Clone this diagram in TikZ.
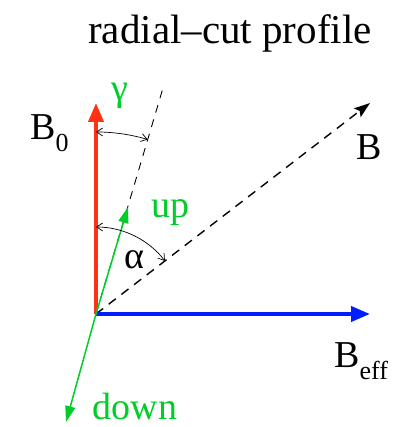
\documentclass[tikz,border=0pt]{standalone}
\usepackage{fontspec}
\setmainfont{Liberation Serif}
\usetikzlibrary{arrows.meta}
\definecolor{cred}{RGB}{255,50,20}
\definecolor{cblue}{RGB}{0,30,255}
\definecolor{cgreen}{RGB}{0,205,40}
\newcommand{\lbl}{\fontsize{38}{38}\selectfont}
\newcommand{\subl}{\fontsize{26}{26}\selectfont}
\tikzset{
  thickvec/.style={line width=4pt, -{Triangle[length=19pt,width=15pt]}},
  greenvec/.style={cgreen, line width=1.5pt, -{Triangle[length=16pt,width=10pt]}},
  dashB/.style={black, line width=1.4pt, dash pattern=on 9pt off 7pt, -{Stealth[length=16pt,width=11pt,inset=3pt]}},
  dashG/.style={black, line width=0.9pt, dash pattern=on 8pt off 7pt},
  anglearc/.style={black, line width=0.7pt, {Straight Barb[length=6pt,width=8pt]}-{Straight Barb[length=6pt,width=8pt]}},
  txt/.style={inner sep=0pt, font=\lbl}
}
\begin{document}
\begin{tikzpicture}[x=1pt,y=1pt]
\useasboundingbox (0,0) rectangle (394,427);
\coordinate (O) at (96,113);
\coordinate (B0tip) at (96,324);
\coordinate (Befftip) at (370,113);
\coordinate (Btip) at (370,324);
\coordinate (Gtop) at (163,339);
\coordinate (uptip) at (128,220);
\coordinate (downtip) at (66,5);
% title
\node[inner sep=0pt, font=\fontsize{41}{41}\selectfont] (title) at (230,394) {radial\textendash cut profile};
% dashed lines
\draw[dashG] (O) -- (Gtop);
\draw[dashB] (O) -- (Btip);
% main vectors
\draw[thickvec, cred] (O) -- (B0tip);
\draw[thickvec, cblue] (O) -- (Befftip);
\draw[greenvec] (O) -- (uptip);
\draw[greenvec] (O) -- (downtip);
% angle arcs
\draw[anglearc] (96,200) arc[start angle=90, end angle=37.6, radius=87];
\draw[anglearc] (96,295) arc[start angle=90, end angle=73.5, radius=182];
% labels
\node[txt, anchor=base west] (lB0) at (30,287) {B\raisebox{-0.3em}{\subl 0}};
\node[txt, cgreen] (lgamma) at (120,331) {γ};
\node[txt] (lB) at (369,280) {B};
\node[txt, cgreen] (lup) at (170,214) {up};
\node[txt] (lalpha) at (134,167) {α};
\node[txt, anchor=base west] (lBeff) at (334,59) {B\raisebox{-0.3em}{\subl eff}};
\node[txt, cgreen] (ldown) at (135,20) {down};
\end{tikzpicture}
\end{document}
